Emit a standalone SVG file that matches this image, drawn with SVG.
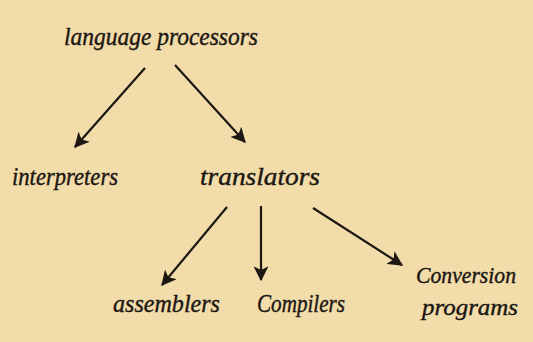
<svg xmlns="http://www.w3.org/2000/svg" width="533" height="342" viewBox="0 0 533 342">
<defs>
<style>
.t{font-family:"Liberation Serif","DejaVu Serif",serif;font-style:italic;font-size:26px;fill:#1c1712;stroke:#1c1712;stroke-width:0.4;}
.s{font-size:23px;}
.c line{stroke:#1c1712;stroke-width:2.2;fill:none;}
</style>
<marker id="ah" viewBox="0 0 12 12" refX="11" refY="6" markerWidth="15" markerHeight="15" markerUnits="userSpaceOnUse" orient="auto">
<path d="M0,0 L12,6 L0,12 L3,6 Z" fill="#1c1712"/>
</marker>
</defs>
<rect width="533" height="342" fill="#f2dcaa"/>
<g id="lp"><text class="t" x="64" y="45" textLength="194" lengthAdjust="spacingAndGlyphs">language processors</text></g>
<g id="interp"><text class="t" x="12" y="185" textLength="106" lengthAdjust="spacingAndGlyphs">interpreters</text></g>
<g id="trans"><text class="t" x="200" y="185" textLength="120" lengthAdjust="spacingAndGlyphs">translators</text></g>
<g id="asm"><text class="t" x="113" y="312" textLength="107" lengthAdjust="spacingAndGlyphs">assemblers</text></g>
<g id="comp"><text class="t" x="257" y="312" textLength="88" lengthAdjust="spacingAndGlyphs">Compilers</text></g>
<g id="conv"><text class="t s" x="416" y="283" textLength="100" lengthAdjust="spacingAndGlyphs">Conversion</text><text class="t s" x="422" y="315" textLength="96" lengthAdjust="spacingAndGlyphs">programs</text></g>
<g class="c" id="connectors">
<line x1="145" y1="68" x2="75" y2="147" marker-end="url(#ah)"/>
<line x1="175" y1="65" x2="245" y2="142" marker-end="url(#ah)"/>
<line x1="227" y1="207" x2="162" y2="285" marker-end="url(#ah)"/>
<line x1="261" y1="206" x2="261" y2="280" marker-end="url(#ah)"/>
<line x1="313" y1="208" x2="402" y2="265" marker-end="url(#ah)"/>
</g>
</svg>
